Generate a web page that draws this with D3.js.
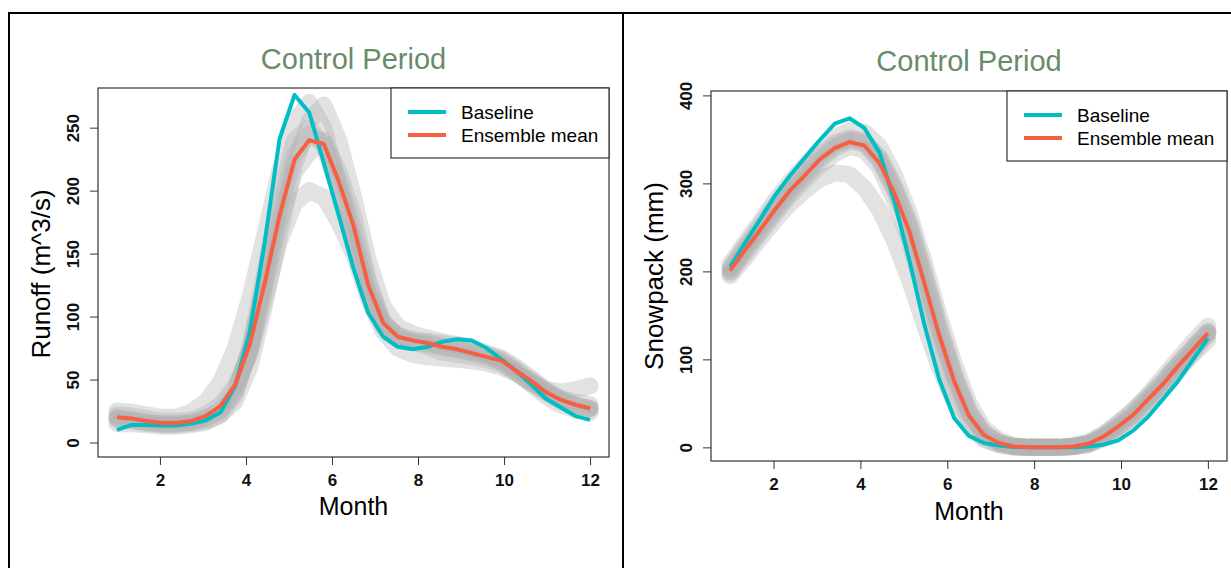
<!DOCTYPE html>
<html>
<head>
<meta charset="utf-8">
<script src="https://cdn.jsdelivr.net/npm/d3@7"></script>
<style>
  body { margin: 0; background: #fff; }
  svg { display: block; font-family: "Liberation Sans", Arial, sans-serif; }
</style>
</head>
<body>
<svg width="1231" height="568"></svg>
<script>
// month positions of the points (same for every series)
var months = [1, 1.34, 1.69, 2.03, 2.38, 2.72, 3.06, 3.41, 3.75, 4.09, 4.44, 4.78, 5.13, 5.47, 5.81, 6.16,
              6.5, 6.84, 7.19, 7.53, 7.88, 8.22, 8.56, 8.91, 9.25, 9.59, 9.94, 10.28, 10.63, 10.97, 11.31, 11.66, 12];
var monthTicks = [2, 4, 6, 8, 10, 12];

// runoff (m^3/s)
var runoffBaseline = [10, 14, 14, 13.5, 13.5, 15, 17.5, 24, 45, 88, 160, 241, 276, 262, 222, 180,
                      138, 103, 84, 76, 74, 76, 80, 82, 81, 75, 66, 57, 46, 35, 28, 21, 18];
var runoffMean = [20, 19, 17, 15.5, 15.5, 17, 21, 29, 46, 78, 127, 180, 225, 240, 237, 207,
                  172, 125, 95, 84, 81, 79, 76, 74, 71, 68, 65, 57, 49, 40, 34, 30, 27];
var runoffMember1 = [25, 24, 22, 20, 20, 24, 32, 48, 75, 115, 165, 215, 255, 270, 250, 205,
                     160, 118, 95, 85, 80, 76, 72, 70, 68, 66, 62, 55, 47, 40, 35, 32, 30];
var runoffMember2 = [18, 17, 15, 14, 14, 15, 17, 22, 33, 60, 110, 165, 220, 255, 268, 240,
                     195, 145, 108, 92, 86, 83, 80, 78, 75, 71, 67, 60, 51, 42, 35, 30, 27];
var runoffMember3 = [20, 18, 16, 15, 15, 16, 19, 26, 42, 72, 115, 160, 190, 200, 195, 175,
                     150, 115, 88, 75, 70, 68, 67, 66, 65, 63, 60, 55, 48, 42, 40, 42, 45];
var runoffMember4 = [15, 15, 14, 13, 13, 14, 16, 22, 38, 75, 135, 195, 240, 250, 235, 200,
                     160, 120, 92, 82, 80, 80, 79, 77, 74, 70, 64, 56, 46, 37, 30, 26, 24];
var runoffMember5 = [22, 21, 19, 17, 17, 18, 22, 30, 45, 70, 125, 175, 215, 230, 240, 215,
                     180, 130, 95, 85, 82, 80, 76, 74, 72, 70, 66, 58, 50, 41, 34, 29, 27];
var runoffMember6 = [19, 18, 16, 15, 15, 16, 19, 25, 40, 74, 128, 185, 228, 245, 238, 208,
                     170, 126, 96, 84, 80, 78, 76, 74, 71, 68, 64, 57, 48, 40, 33, 29, 27];
var runoffTicks = [0, 50, 100, 150, 200, 250];

// snowpack (mm)
var snowBaseline = [205, 232, 259, 286, 309, 329, 349, 368, 374, 363, 335, 280, 212, 140, 78, 33,
                    13, 5, 2, 0.5, 0, 0, 0, 0, 1, 3, 8, 19, 35, 55, 75, 100, 124];
var snowMean = [201, 224, 247, 270, 292, 309, 327, 340, 347, 343, 323, 289, 245, 187, 128, 75,
                36, 14, 5, 1, 0, 0, 0, 1, 4, 12, 24, 37, 55, 72, 92, 111, 130];
var snowMember1 = [195, 215, 237, 258, 277, 292, 305, 312, 310, 295, 270, 235, 190, 140, 92, 52,
                   24, 9, 3, 1, 0, 0, 0, 1, 4, 11, 22, 35, 52, 70, 88, 106, 122];
var snowMember2 = [208, 232, 256, 280, 302, 320, 338, 352, 360, 358, 342, 310, 265, 210, 150, 95,
                   50, 22, 8, 2, 0, 0, 0, 1, 5, 14, 27, 42, 60, 80, 100, 120, 138];
var snowMember3 = [200, 223, 246, 268, 290, 308, 326, 340, 348, 345, 325, 292, 248, 190, 130, 78,
                   38, 15, 5, 1, 0, 0, 0, 1, 4, 12, 24, 37, 55, 72, 92, 111, 130];
var snowMember4 = [204, 228, 252, 275, 296, 314, 332, 346, 352, 348, 330, 298, 256, 200, 140, 85,
                   42, 17, 6, 1, 0, 0, 0, 1, 3, 10, 20, 33, 50, 68, 88, 108, 128];
var snowMember5 = [198, 220, 243, 265, 286, 304, 320, 334, 342, 338, 318, 282, 235, 175, 115, 65,
                   30, 11, 3, 0, 0, 0, 0, 2, 6, 15, 28, 42, 58, 76, 95, 114, 132];
var snowMember6 = [202, 226, 249, 272, 293, 311, 329, 343, 350, 347, 328, 295, 252, 196, 136, 82,
                   40, 16, 5, 1, 0, 0, 0, 1, 4, 12, 24, 38, 56, 74, 94, 113, 131];
var snowTicks = [0, 100, 200, 300, 400];

var seriesNames = ["Baseline", "Ensemble mean"];
var seriesColors = ["#00BEC4", "#F75F45"];

var svg = d3.select("svg");

// outer frame like the original figure
svg.append("line").attr("x1", 8).attr("x2", 1231).attr("y1", 13).attr("y2", 13)
    .attr("stroke", "#000").attr("stroke-width", 2);
svg.append("line").attr("x1", 9).attr("x2", 9).attr("y1", 12).attr("y2", 568)
    .attr("stroke", "#000").attr("stroke-width", 2);
svg.append("line").attr("x1", 623).attr("x2", 623).attr("y1", 12).attr("y2", 568)
    .attr("stroke", "#000").attr("stroke-width", 2);

function drawPanel(p) {
    var x = d3.scaleLinear().domain([0.56, 12.44]).range([p.left, p.right]);
    var y = d3.scaleLinear().domain(p.yDomain).range([p.bottom, p.top]);

    var line = d3.line()
        .x(function(d, i) { return x(months[i]); })
        .y(function(d) { return y(d); });

    var g = svg.append("g");

    // ensemble members, wide grey strokes
    g.selectAll(".member")
        .data(p.members)
        .enter().append("path")
        .attr("class", "member")
        .attr("d", line)
        .attr("fill", "none")
        .attr("stroke", "#b0b0b0")
        .attr("stroke-opacity", 0.36)
        .attr("stroke-width", 17)
        .attr("stroke-linecap", "round")
        .attr("stroke-linejoin", "round");

    g.selectAll(".series")
        .data([p.baseline, p.mean])
        .enter().append("path")
        .attr("class", "series")
        .attr("d", line)
        .attr("fill", "none")
        .attr("stroke", function(d, i) { return seriesColors[i]; })
        .attr("stroke-width", 4)
        .attr("stroke-linejoin", "round");

    // box
    g.append("rect")
        .attr("x", p.left).attr("y", p.top)
        .attr("width", p.right - p.left).attr("height", p.bottom - p.top)
        .attr("fill", "none").attr("stroke", "#333").attr("stroke-width", 1.2);

    var xAxis = g.append("g")
        .attr("transform", "translate(0," + p.bottom + ")")
        .call(d3.axisBottom(x).tickValues(monthTicks).tickSize(8));
    xAxis.select(".domain").remove();
    xAxis.selectAll("line").attr("stroke", "#333");
    xAxis.selectAll("text")
        .attr("y", 29).attr("dy", null)
        .attr("font-size", 17).attr("font-weight", "bold")
        .attr("font-family", "Liberation Sans, Arial, sans-serif")
        .attr("fill", "#111");

    var yAxis = g.append("g")
        .attr("transform", "translate(" + p.left + ",0)")
        .call(d3.axisLeft(y).tickValues(p.ticks).tickSize(8));
    yAxis.select(".domain").remove();
    yAxis.selectAll("line").attr("stroke", "#333");
    yAxis.selectAll("text")
        .attr("x", null).attr("dy", "0.36em")
        .attr("text-anchor", "middle")
        .attr("transform", "translate(-25,0) rotate(-90)")
        .attr("font-size", 17).attr("font-weight", "bold")
        .attr("font-family", "Liberation Sans, Arial, sans-serif")
        .attr("fill", "#111");

    var cx = (p.left + p.right) / 2;
    g.append("text")
        .attr("x", cx).attr("y", p.titleY)
        .attr("text-anchor", "middle")
        .attr("font-size", 29)
        .attr("fill", "#698B69")
        .text("Control Period");

    g.append("text")
        .attr("x", cx).attr("y", p.xLabelY)
        .attr("text-anchor", "middle")
        .attr("font-size", 25)
        .attr("fill", "#000")
        .text("Month");

    g.append("text")
        .attr("transform", "translate(" + p.yLabelX + "," + p.yLabelY + ") rotate(-90)")
        .attr("dy", "0.36em")
        .attr("text-anchor", "middle")
        .attr("font-size", 26)
        .attr("fill", "#000")
        .text(p.yLabel);

    // legend
    var lg = g.append("g");
    lg.append("rect")
        .attr("x", p.legendX).attr("y", p.top)
        .attr("width", p.right - p.legendX).attr("height", 70)
        .attr("fill", "#fff").attr("stroke", "#333").attr("stroke-width", 1.2);
    seriesNames.forEach(function(name, i) {
        var ly = p.top + 24 + i * 23;
        lg.append("line")
            .attr("x1", p.legendX + 17).attr("x2", p.legendX + 55)
            .attr("y1", ly).attr("y2", ly)
            .attr("stroke", seriesColors[i]).attr("stroke-width", 4);
        lg.append("text")
            .attr("x", p.legendX + 70).attr("y", ly)
            .attr("dy", "0.36em")
            .attr("font-size", 19)
            .attr("fill", "#000")
            .text(name);
    });
}

drawPanel({
    left: 98, right: 609, top: 88, bottom: 457,
    yDomain: [-11.5, 281.5], ticks: runoffTicks,
    baseline: runoffBaseline, mean: runoffMean,
    members: [runoffMember1, runoffMember2, runoffMember3, runoffMember4, runoffMember5, runoffMember6],
    titleY: 69, xLabelY: 515, yLabelX: 41, yLabelY: 274,
    yLabel: "Runoff (m^3/s)", legendX: 391
});

drawPanel({
    left: 711, right: 1227, top: 91, bottom: 461,
    yDomain: [-15.5, 405], ticks: snowTicks,
    baseline: snowBaseline, mean: snowMean,
    members: [snowMember1, snowMember2, snowMember3, snowMember4, snowMember5, snowMember6],
    titleY: 71, xLabelY: 520, yLabelX: 654, yLabelY: 276,
    yLabel: "Snowpack (mm)", legendX: 1007
});
</script>
</body>
</html>
